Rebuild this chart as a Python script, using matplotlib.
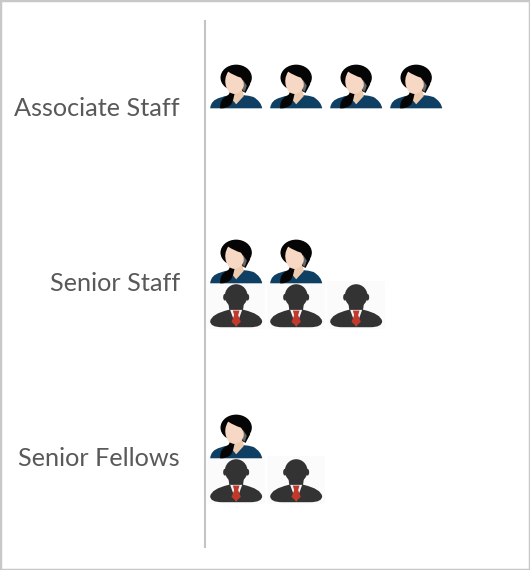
import matplotlib
matplotlib.use("Agg")
import matplotlib.pyplot as plt
from matplotlib.patches import Ellipse, PathPatch, Polygon, Rectangle
from matplotlib.path import Path
from matplotlib.transforms import Affine2D

categories = ["Associate Staff", "Senior Staff", "Senior Fellows"]
women = [4, 2, 1]
men = [0, 3, 2]

W, H = 530, 570
fig = plt.figure(figsize=(W / 100, H / 100), dpi=100, facecolor="white")
ax = fig.add_axes([205 / W, (H - 547) / H, 325 / W, 526 / H])
ax.set_xlim(0, 325 / 60)
ax.set_ylim(2.516, -0.49)
ax.patch.set_alpha(0)
for s in ["top", "right", "bottom"]:
    ax.spines[s].set_visible(False)
ax.spines["left"].set_color("#c4c4c4")
ax.spines["left"].set_linewidth(1.5)
ax.set_xticks([])
ax.set_yticks(range(len(categories)))
ax.set_yticklabels(categories, family="Lato", fontsize=18.2, color="#595959")
ax.tick_params(axis="y", length=0, pad=18)

M, C3 = Path.MOVETO, Path.CURVE3


def local(x, y):
    px, py = ax.transData.transform((x, y))
    return Affine2D().translate(-104.5, -160).scale(1 / 3, -1 / 3).translate(px, py)


def curve(points):
    codes = [M] + [C3] * (len(points) - 1)
    return Path(points, codes)


def woman(x, y):
    t = local(x, y)
    kw = dict(transform=t, clip_on=False, lw=0, snap=False)
    add = ax.add_patch
    add(PathPatch(curve([(30, 160), (32, 135), (60, 128), (90, 117), (108, 120), (128, 117),
                         (160, 126), (183, 140), (186, 160), (108, 160), (30, 160)]), fc="#0f3f63", **kw))
    add(Polygon([(86, 100), (126, 100), (131, 123), (108, 148), (88, 124)], fc="#eccbae", **kw))
    add(PathPatch(curve([(92, 95), (92, 120), (76, 125), (58, 135), (60, 160), (75, 162),
                         (92, 150), (104, 128), (105, 100), (98, 95), (92, 95)]), fc="#050505", **kw))
    add(Ellipse((108, 68), 94, 78, fc="#050505", **kw))
    add(Polygon([(122, 66), (150, 88), (136, 114), (126, 108)], fc="#050505", **kw))
    add(Polygon([(128, 74), (140, 92), (134, 110), (126, 105)], fc="#666666", **kw))
    add(PathPatch(curve([(84, 50), (70, 72), (78, 95), (84, 116), (103, 117), (124, 114),
                         (130, 95), (134, 82), (122, 68), (102, 62), (84, 50)]), fc="#f7d8c4", **kw))


def man(x, y):
    t = local(x, y)
    kw = dict(transform=t, clip_on=False, lw=0, snap=False)
    add = ax.add_patch
    add(Rectangle((22, 22), 172, 142, fc="#fbfbfb", **kw))
    add(PathPatch(curve([(30, 142), (34, 120), (85, 108), (108, 102), (131, 108),
                         (182, 120), (186, 142), (186, 160), (150, 160), (108, 160),
                         (66, 160), (30, 160), (30, 142)]), fc="#333333", **kw))
    add(Ellipse((108, 66), 68, 70, fc="#333333", **kw))
    add(Ellipse((74, 70), 10, 20, fc="#333333", **kw))
    add(Ellipse((142, 70), 10, 20, fc="#333333", **kw))
    add(Polygon([(84, 84), (132, 84), (128, 112), (88, 112)], fc="#333333", **kw))
    add(Polygon([(90, 108), (126, 108), (108, 158)], fc="#f4f4f4", **kw))
    add(Polygon([(98, 110), (118, 110), (114, 124), (122, 144), (108, 157),
                 (94, 144), (102, 124)], fc="#c0392b", **kw))


for row, name in enumerate(categories):
    for i in range(men[row]):
        man(i + 0.5, row + 0.26)
    for i in range(women[row]):
        woman(i + 0.5, row + 0.009)

fig.add_artist(Rectangle((0, 0), 1, 1, transform=fig.transFigure, fc="none",
                         ec="#c8c8c8", lw=2.5))
fig.savefig("out.png", dpi=100)
